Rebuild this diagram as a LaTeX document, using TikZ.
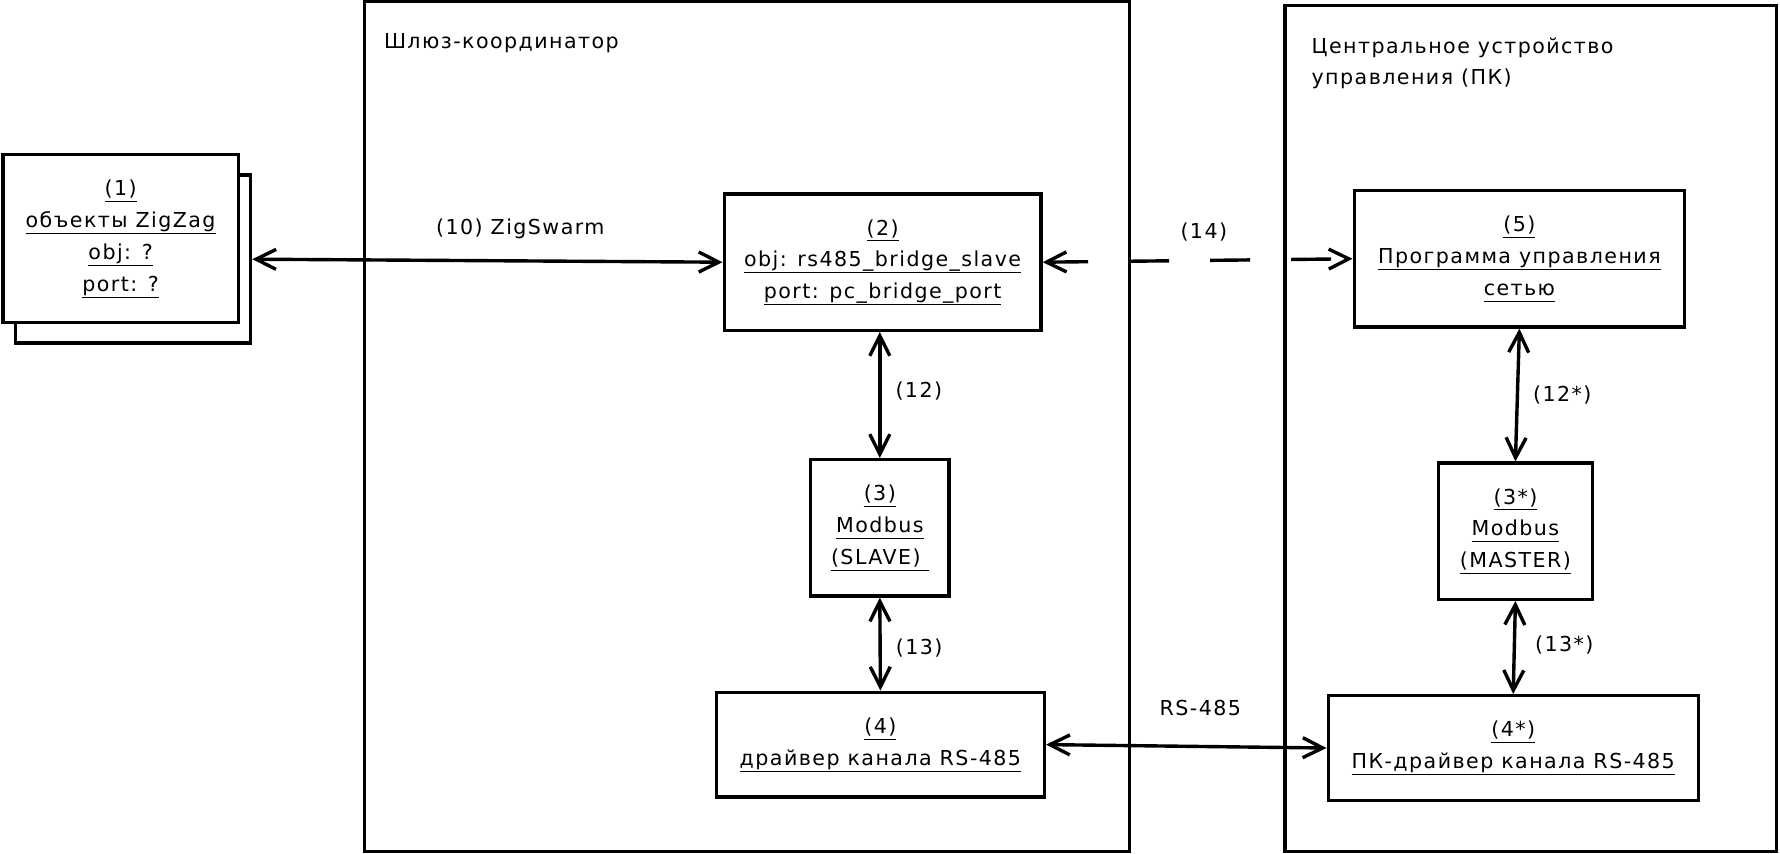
\documentclass[tikz,border=0pt]{standalone}
\usepackage{fontspec}
\setmainfont{DejaVu Sans}[LetterSpace=7]
\usetikzlibrary{arrows.meta}

\newsavebox{\linedbox}
\newcommand{\lined}[1]{\sbox{\linedbox}{#1}\rlap{\rule[-3.2pt]{\wd\linedbox}{0.5pt}}\usebox{\linedbox}}

\begin{document}
\begin{tikzpicture}[x=1pt,y=-1pt]
  \tikzset{FrameStyle/.style = {
    shape         = rectangle,
    draw          = black,
    line width    = 1.7pt,
    inner sep     = 0pt
    }
  }
  \tikzset{BoxStyle/.style = {
    shape         = rectangle,
    draw          = black,
    fill          = white,
    line width    = 1.7pt,
    text          = black,
    align         = center,
    inner sep     = 0pt,
    font          = \fontsize{10.3}{15.9}\selectfont
    }
  }
  \tikzset{TitleStyle/.style = {
    inner sep     = 0pt,
    text          = black,
    font          = \fontsize{10.3}{15.9}\selectfont
    }
  }
  \tikzset{EdgeStyle/.style = {
    draw          = black,
    line width    = 1.7pt,
    <->, >={Straight Barb[length=10pt, width=10pt]}
    }
  }
  \tikzset{EdgeDashed/.style = {
    EdgeStyle,
    dash pattern  = on 20pt off 20.5pt
    }
  }
  \tikzset{LabelStyle/.style = {
    inner sep     = 0pt,
    text          = black,
    font          = \fontsize{10.3}{15.9}\selectfont
    }
  }

  \useasboundingbox (0,0) rectangle (890,427);

  % frames
  \node[FrameStyle, minimum width=382.6pt, minimum height=424.8pt] (Gate) at (373.5, 213.2) {};
  \node[FrameStyle, minimum width=245.8pt, minimum height=422.9pt] (Pc) at (765.4, 214.3) {};
  \node[TitleStyle, anchor=base west] (GateTitle) at (191.8, 24.1) {Шлюз-координатор};
  \node[TitleStyle, anchor=north west, align=left] (PcTitle) at (655.6, 18.5) {Центральное устройство\\управления (ПК)};

  % boxes
  \node[BoxStyle, minimum width=117.6pt, minimum height=84pt] (ObjBack) at (66.5, 129.6) {};
  \node[BoxStyle, minimum width=117.6pt, minimum height=84pt] (Obj) at (60.3, 119.4)
    {\lined{(1)}\\\lined{объекты ZigZag}\\\lined{obj: ?}\\\lined{port: ?}};
  \node[BoxStyle, minimum width=158.4pt, minimum height=68.1pt] (Bridge) at (441.3, 131.1)
    {\lined{(2)}\\\lined{obj: rs485\_bridge\_slave}\\\lined{port: pc\_bridge\_port}};
  \node[BoxStyle, minimum width=69.2pt, minimum height=68.1pt] (Slave) at (439.9, 263.9)
    {\lined{(3)}\\\lined{Modbus}\\\lined{(SLAVE)~}};
  \node[BoxStyle, minimum width=164pt, minimum height=52.3pt] (Driver) at (440.2, 372.3)
    {\lined{(4)}\\\lined{драйвер канала RS-485}};
  \node[BoxStyle, minimum width=165.2pt, minimum height=68.1pt] (Prog) at (759.7, 129.4)
    {\lined{(5)}\\\lined{Программа управления}\\\lined{сетью}};
  \node[BoxStyle, minimum width=77.2pt, minimum height=68.1pt] (Master) at (757.7, 265.6)
    {\lined{(3*)}\\\lined{Modbus}\\\lined{(MASTER)}};
  \node[BoxStyle, minimum width=185pt, minimum height=52.3pt] (PcDriver) at (756.6, 374.0)
    {\lined{(4*)}\\\lined{ПК-драйвер канала RS-485}};

  % links
  \draw[EdgeStyle] (ObjBack.east) -- node[LabelStyle, above=10pt, pos=0.57] {(10) ZigSwarm} (Bridge.west);
  \draw[EdgeDashed] (Bridge.east) -- node[LabelStyle, above=9pt, pos=0.52] {(14)} (Prog.west);
  \draw[EdgeStyle] (Slave.north |- Bridge.south) -- node[LabelStyle, right=7pt, pos=0.47] {(12)} (Slave.north);
  \draw[EdgeStyle] (Slave.south) -- node[LabelStyle, right=7pt, pos=0.54] {(13)} (Driver.north);
  \draw[EdgeStyle] (Driver.east) -- node[LabelStyle, above=14.5pt, pos=0.55] {RS-485} (PcDriver.west);
  \draw[EdgeStyle] (Prog.south) -- node[LabelStyle, right=7pt, pos=0.5] {(12*)} (Master.north);
  \draw[EdgeStyle] (Master.south) -- node[LabelStyle, right=9.5pt, pos=0.47] {(13*)} (PcDriver.north);
\end{tikzpicture}
\end{document}
